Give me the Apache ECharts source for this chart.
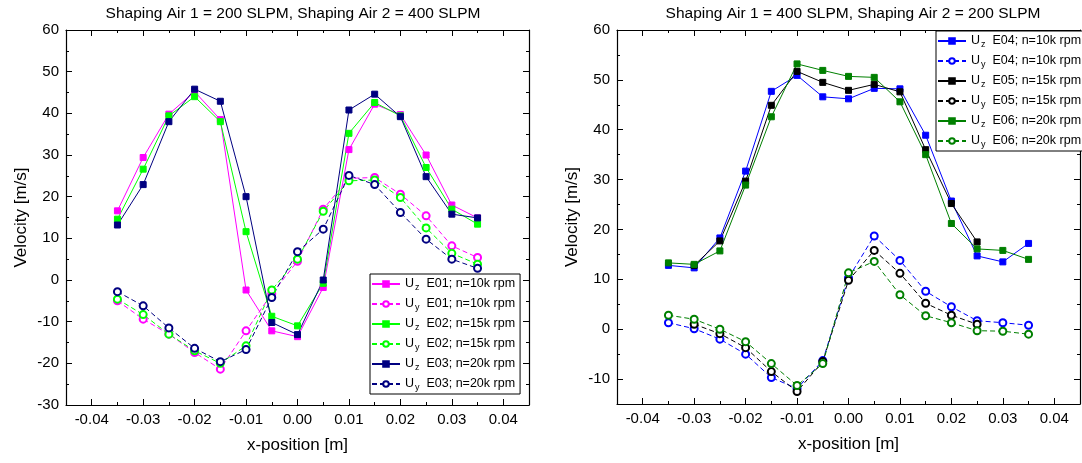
<!DOCTYPE html>
<html>
<head>
<meta charset="utf-8">
<script src="https://cdn.jsdelivr.net/npm/echarts@6/dist/echarts.min.js"></script>
<style>
  html, body { margin: 0; padding: 0; background: #fff; }
  #chart { width: 1082px; height: 463px; }
</style>
</head>
<body>
<div id="chart"></div>
<script>
// ---- data ----
const xPos = [-0.035, -0.03, -0.025, -0.02, -0.015, -0.01, -0.005, 0, 0.005, 0.01, 0.015, 0.02, 0.025, 0.03, 0.035];

// left panel: Shaping Air 1 = 200 SLPM, Shaping Air 2 = 400 SLPM
const uzE01 = [16.6, 29.4, 39.8, 45.2, 38.5, -2.4, -12.2, -13.6, -1.8, 31.3, 42.2, 39.7, 30.0, 18.0, 14.9];
const uyE01 = [-5.0, -9.4, -13.0, -17.4, -21.4, -12.2, -3.3, 4.5, 17.0, 24.4, 24.6, 20.6, 15.4, 8.2, 5.4];
const uzE02 = [14.6, 26.6, 39.4, 44.0, 38.0, 11.6, -8.7, -11.0, -0.8, 35.2, 42.6, 39.4, 27.0, 17.0, 13.4];
const uyE02 = [-4.6, -8.3, -13.0, -17.0, -20.0, -15.8, -2.4, 5.0, 16.5, 23.8, 24.0, 19.8, 12.5, 6.4, 3.8];
const uzE03 = [13.2, 22.9, 38.0, 45.8, 42.9, 20.0, -10.2, -13.1, 0.0, 40.8, 44.6, 39.2, 24.8, 15.8, 14.9];
const uyE03 = [-2.8, -6.2, -11.5, -16.4, -19.6, -16.7, -4.2, 6.8, 12.2, 25.1, 22.9, 16.2, 9.8, 5.0, 2.8];

// right panel: Shaping Air 1 = 400 SLPM, Shaping Air 2 = 200 SLPM
const uzE04 = [12.8, 12.3, 18.3, 31.7, 47.7, 50.9, 46.6, 46.2, 48.3, 48.2, 38.9, 25.7, 14.7, 13.5, 17.2];
const uyE04 = [1.3, 0.1, -2.0, -5.0, -9.7, -11.9, -6.3, 10.3, 18.7, 13.8, 7.6, 4.5, 1.7, 1.3, 0.8];
const uzE05 = [null, 12.8, 17.7, 29.7, 44.9, 51.7, 49.5, 47.9, 49.1, 47.6, 36.0, 25.2, 17.5, null, null];
const uyE05 = [null, 1.0, -0.9, -3.7, -8.5, -12.5, -6.5, 9.8, 15.8, 11.2, 5.2, 2.8, 1.0, null, null];
const uzE06 = [13.3, 13.0, 15.7, 28.9, 42.6, 53.2, 51.9, 50.7, 50.5, 45.6, 35.0, 21.2, 16.1, 15.8, 14.0];
const uyE06 = [2.8, 2.0, 0.0, -2.5, -6.9, -11.3, -6.9, 11.3, 13.6, 6.9, 2.7, 1.3, -0.3, -0.4, -1.0];

// ticks
const xMajor = [-0.04, -0.03, -0.02, -0.01, 0, 0.01, 0.02, 0.03, 0.04];
const xMinor = [-0.035, -0.025, -0.015, -0.005, 0.005, 0.015, 0.025, 0.035];
const yMajorL = [-30, -20, -10, 0, 10, 20, 30, 40, 50, 60];
const yMinorL = [-25, -15, -5, 5, 15, 25, 35, 45, 55];
const yMajorR = [-10, 0, 10, 20, 30, 40, 50, 60];
const yMinorR = [-5, 5, 15, 25, 35, 45, 55];

const titles = ['Shaping Air 1 = 200 SLPM, Shaping Air 2 = 400 SLPM',
                'Shaping Air 1 = 400 SLPM, Shaping Air 2 = 200 SLPM'];

// ---- build ----
const FONT = '"Liberation Sans", Arial, sans-serif';
const grids = [
  { left: 66, top: 30, width: 463, height: 375 },
  { left: 617, top: 30, width: 463, height: 374 }
];

function axisSet(dim, grid, min, max, major, minor, fmt, name, nameGap) {
  const pos = dim === 'x' ? ['bottom', 'top'] : ['left', 'right'];
  const base = {
    type: 'value', gridIndex: grid, min: min, max: max,
    splitLine: { show: false }, minorTick: { show: false }
  };
  const line = { show: true, onZero: false, lineStyle: { color: '#000', width: 1.2 } };
  const out = [];
  pos.forEach((p, i) => {
    out.push(Object.assign({}, base, {
      position: p,
      axisLine: line,
      axisTick: { show: true, inside: true, length: 6, customValues: major, lineStyle: { color: '#000', width: 1 } },
      axisLabel: i === 0
        ? { show: true, customValues: major, formatter: fmt, fontSize: 15, color: '#000', fontFamily: FONT, margin: 7 }
        : { show: false },
      name: i === 0 ? name : '',
      nameLocation: 'middle',
      nameGap: nameGap,
      nameTextStyle: { fontSize: 17, color: '#000', fontFamily: FONT }
    }));
    out.push(Object.assign({}, base, {
      position: p,
      axisLine: { show: false, onZero: false },
      axisTick: { show: true, inside: true, length: 3, customValues: minor, lineStyle: { color: '#000', width: 1 } },
      axisLabel: { show: false }
    }));
  });
  return out;
}

const xFmt = v => v.toFixed(2);
const yFmt = v => String(Math.round(v));

const xAxes = [].concat(
  axisSet('x', 0, -0.045, 0.045, xMajor, xMinor, xFmt, 'x-position [m]', 32),
  axisSet('x', 1, -0.045, 0.045, xMajor, xMinor, xFmt, 'x-position [m]', 32)
);
const yAxes = [].concat(
  axisSet('y', 0, -30, 60, yMajorL, yMinorL, yFmt, 'Velocity [m/s]', 36),
  axisSet('y', 1, -15, 60, yMajorR, yMinorR, yFmt, 'Velocity [m/s]', 36)
);

function pairs(arr) {
  const d = [];
  arr.forEach((v, i) => { if (v !== null) d.push([xPos[i], v]); });
  return d;
}

function mk(name, arr, color, dashed, grid) {
  return {
    type: 'line', name: name,
    xAxisIndex: grid * 4, yAxisIndex: grid * 4,
    data: pairs(arr),
    symbol: dashed ? 'emptyCircle' : 'rect',
    symbolSize: dashed ? 7 : 6,
    lineStyle: { color: color, width: 1, type: dashed ? [5, 3] : 'solid' },
    itemStyle: { color: color, borderColor: color, borderWidth: 1 },
    emphasis: { disabled: true },
    animation: false
  };
}

const series = [
  mk('Uz E01; n=10k rpm', uzE01, '#ff00ff', false, 0),
  mk('Uy E01; n=10k rpm', uyE01, '#ff00ff', true, 0),
  mk('Uz E02; n=15k rpm', uzE02, '#00ff00', false, 0),
  mk('Uy E02; n=15k rpm', uyE02, '#00ff00', true, 0),
  mk('Uz E03; n=20k rpm', uzE03, '#000080', false, 0),
  mk('Uy E03; n=20k rpm', uyE03, '#000080', true, 0),
  mk('Uz E04; n=10k rpm', uzE04, '#0000ff', false, 1),
  mk('Uy E04; n=10k rpm', uyE04, '#0000ff', true, 1),
  mk('Uz E05; n=15k rpm', uzE05, '#000000', false, 1),
  mk('Uy E05; n=15k rpm', uyE05, '#000000', true, 1),
  mk('Uz E06; n=20k rpm', uzE06, '#008000', false, 1),
  mk('Uy E06; n=20k rpm', uyE06, '#008000', true, 1)
];

const legendText = {
  color: '#000', fontFamily: FONT, fontSize: 12.5,
  rich: {
    u: { fontSize: 12.5, lineHeight: 16, fontFamily: FONT, color: '#000' },
    s: { fontSize: 9, lineHeight: 9, fontFamily: FONT, color: '#000', padding: [7, 0, 0, 1] },
    t: { fontSize: 12.5, lineHeight: 16, fontFamily: FONT, color: '#000' }
  }
};
function legendFmt(name) {
  const sub = name.charAt(1);
  const rest = name.slice(3);
  return '{u|U}{s|' + sub + '}{t|  ' + rest + '}';
}
function mkLegend(names, left, top, gap) {
  return {
    data: names, orient: 'vertical', left: left, top: top,
    itemWidth: 28, itemHeight: 7, itemGap: gap,
    padding: [2, 5, 2, 1],
    borderColor: '#000', borderWidth: 1, backgroundColor: '#fff',
    textStyle: legendText, formatter: legendFmt,
    selectedMode: false
  };
}

const option = {
  backgroundColor: '#fff',
  animation: false,
  title: [
    { text: titles[0], left: 288, top: 1, textAlign: 'center',
      textStyle: { fontSize: 15.5, fontWeight: 'normal', color: '#000', fontFamily: FONT } },
    { text: titles[1], left: 848, top: 1, textAlign: 'center',
      textStyle: { fontSize: 15.5, fontWeight: 'normal', color: '#000', fontFamily: FONT } }
  ],
  grid: grids,
  xAxis: xAxes,
  yAxis: yAxes,
  legend: [
    mkLegend(series.slice(0, 6).map(s => s.name), 370, 274, 4),
    mkLegend(series.slice(6).map(s => s.name), 936, 31, 4)
  ],
  series: series
};

const chart = echarts.init(document.getElementById('chart'), null, { renderer: 'canvas' });
chart.setOption(option);
</script>
</body>
</html>
